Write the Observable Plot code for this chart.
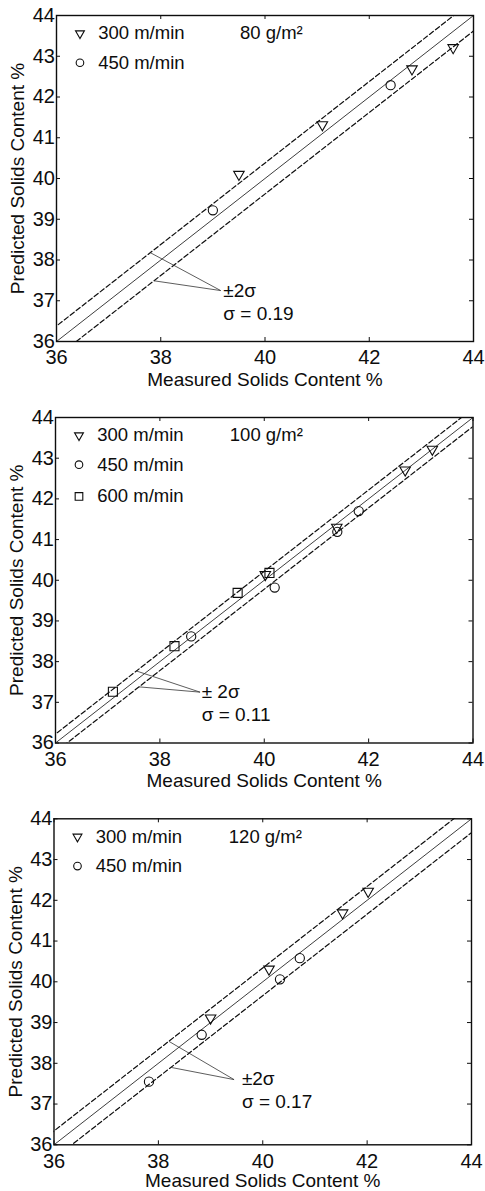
<!DOCTYPE html>
<html>
<head>
<meta charset="utf-8">
<script src="https://cdn.jsdelivr.net/npm/d3@7"></script>
<script src="https://cdn.jsdelivr.net/npm/@observablehq/plot@0.6"></script>
<style>
  body { margin: 0; background: #fff; }
  #charts svg { display: block; }
</style>
</head>
<body>
<div id="charts"></div>
<script>
// Axis ticks (shared by all three panels)
const xTicks = [36, 38, 40, 42, 44];
const yTicks = [36, 37, 38, 39, 40, 41, 42, 43, 44];

// Series names and their markers
const speeds = ["300 m/min", "450 m/min", "600 m/min"];
const symbols = ["triangle", "circle", "square"];

// Basis weight of each panel, and the scatter of prediction around y = x
const basisWeights = ["80 g/m²", "100 g/m²", "120 g/m²"];
const sigmas = [0.19, 0.11, 0.17];
const bandLabels = ["±2σ", "± 2σ", "±2σ"];
const sigmaLabels = ["σ = 0.19", "σ = 0.11", "σ = 0.17"];

// 80 g/m²
const measured80_300 = [39.50, 41.10, 42.82, 43.61];
const predicted80_300 = [40.10, 41.32, 42.69, 43.21];
const measured80_450 = [39.00, 42.41];
const predicted80_450 = [39.22, 42.29];

// 100 g/m²
const measured100_300 = [40.02, 41.39, 42.70, 43.22];
const predicted100_300 = [40.14, 41.30, 42.71, 43.22];
const measured100_450 = [38.60, 40.20, 41.40, 41.81];
const predicted100_450 = [38.62, 39.82, 41.19, 41.70];
const measured100_600 = [37.10, 38.28, 39.49, 40.10];
const predicted100_600 = [37.26, 38.38, 39.69, 40.18];

// 120 g/m²
const measured120_300 = [39.00, 40.12, 41.53, 42.02];
const predicted120_300 = [39.11, 40.31, 41.69, 42.22];
const measured120_450 = [37.82, 38.83, 40.33, 40.71];
const predicted120_450 = [37.55, 38.70, 40.06, 40.58];

const font = "'Liberation Sans', Arial, Helvetica, sans-serif";
const ink = "#0d0d0d";

function rows(measured, predicted) {
  return measured.map((m, i) => ({measured: m, predicted: predicted[i]}));
}

const panels = [
  {
    series: [rows(measured80_300, predicted80_300), rows(measured80_450, predicted80_450)],
    index: 0,
    layout: {height: 395, marginTop: 15, marginBottom: 54, marginLeft: 56, marginRight: 12, titleDy: 44},
    basisX: 39.52,
    leader: {upperX: 37.80, lowerX: 37.87, tipX: 39.15, tipY: 37.25, textX: 39.2, textY1: 37.23, textY2: 36.67}
  },
  {
    series: [rows(measured100_300, predicted100_300), rows(measured100_450, predicted100_450), rows(measured100_600, predicted100_600)],
    index: 1,
    layout: {height: 396, marginTop: 22, marginBottom: 48.5, marginLeft: 55, marginRight: 12.5, titleDy: 43.5},
    basisX: 39.34,
    leader: {upperX: 37.55, lowerX: 37.60, tipX: 38.77, tipY: 37.25, textX: 38.8, textY1: 37.26, textY2: 36.68}
  },
  {
    series: [rows(measured120_300, predicted120_300), rows(measured120_450, predicted120_450)],
    index: 2,
    layout: {height: 400, marginTop: 27.3, marginBottom: 46.7, marginLeft: 53.5, marginRight: 14, titleDy: 42},
    basisX: 39.35,
    leader: {upperX: 38.20, lowerX: 38.24, tipX: 39.45, tipY: 37.60, textX: 39.6, textY1: 37.62, textY2: 37.05}
  }
];

// marker radii for each symbol (data points and key)
const markerR = {triangle: 3.9, circle: 4.6, square: 5.1};
const keyR = {triangle: 3.3, circle: 3.8, square: 4.3};
const keyRows = [43.56, 42.84, 42.06];
const keySymbolX = 36.45;
const keyTextX = 36.80;

function drawPanel(p) {
  const L = p.layout;
  const fw = 485 - L.marginLeft - L.marginRight;
  const fh = L.height - L.marginTop - L.marginBottom;
  const band = 2 * sigmas[p.index];
  const diag = [35, 45];
  const lead = p.leader;

  const marks = [
    // reference line y = x and the ±2σ band
    Plot.line(diag, {x: d => d, y: d => d, stroke: ink, strokeWidth: 0.8, clip: true}),
    Plot.line(diag, {x: d => d, y: d => d + band, stroke: ink, strokeWidth: 1.2, strokeDasharray: "5,2.6", clip: true}),
    Plot.line(diag, {x: d => d, y: d => d - band, stroke: ink, strokeWidth: 1.2, strokeDasharray: "5,2.6", clip: true}),

    // leader lines from the band to its label
    Plot.link([
      {x1: lead.upperX, y1: lead.upperX + band, x2: lead.tipX, y2: lead.tipY},
      {x1: lead.lowerX, y1: lead.lowerX - band, x2: lead.tipX, y2: lead.tipY}
    ], {x1: "x1", y1: "y1", x2: "x2", y2: "y2", stroke: "#333", strokeWidth: 0.8}),
    Plot.text([{x: lead.textX, y: lead.textY1, t: bandLabels[p.index]}, {x: lead.textX, y: lead.textY2, t: sigmaLabels[p.index]}],
      {x: "x", y: "y", text: "t", textAnchor: "start", fontSize: 19, fill: ink}),

    // inward tick marks on all four sides
    Plot.tickX(xTicks, {x: d => d, insetTop: fh - 4, stroke: ink, strokeWidth: 1}),
    Plot.tickX(xTicks, {x: d => d, insetBottom: fh - 4, stroke: ink, strokeWidth: 1}),
    Plot.tickY(yTicks, {y: d => d, insetRight: fw - 4, stroke: ink, strokeWidth: 1}),
    Plot.tickY(yTicks, {y: d => d, insetLeft: fw - 4, stroke: ink, strokeWidth: 1}),

    Plot.axisX(xTicks, {tickSize: 0, tickPadding: 8.5, label: null, fontSize: 20, fill: ink}),
    Plot.axisY(yTicks, {tickSize: 0, tickPadding: 1.5, label: null, fontSize: 20, fill: ink}),

    // axis titles
    Plot.text(["Measured Solids Content %"], {frameAnchor: "bottom", textAnchor: "middle", lineAnchor: "bottom", dy: L.titleDy, fontSize: 19, fill: ink}),
    Plot.text(["Predicted Solids Content %"], {frameAnchor: "left", textAnchor: "middle", lineAnchor: "middle", dx: -38.5, rotate: -90, fontSize: 19, fill: ink}),

    // basis weight
    Plot.text([{x: p.basisX, y: keyRows[0], t: basisWeights[p.index]}], {x: "x", y: "y", text: "t", textAnchor: "start", fontSize: 18.5, fill: ink}),

    Plot.frame({stroke: ink, strokeWidth: 1.4})
  ];

  p.series.forEach((data, i) => {
    const sym = symbols[i];
    const rot = sym === "triangle" ? 180 : 0;
    marks.push(Plot.dot(data, {x: "measured", y: "predicted", symbol: sym, r: markerR[sym], rotate: rot, stroke: ink, strokeWidth: 1.1, fill: "none"}));
    // key entry
    marks.push(Plot.dot([{x: keySymbolX, y: keyRows[i]}], {x: "x", y: "y", symbol: sym, r: keyR[sym], rotate: rot, stroke: ink, strokeWidth: 1.1, fill: "none"}));
    marks.push(Plot.text([{x: keyTextX, y: keyRows[i], t: speeds[i]}], {x: "x", y: "y", text: "t", textAnchor: "start", fontSize: 18.5, fill: ink}));
  });

  return Plot.plot({
    width: 485,
    height: L.height,
    marginTop: L.marginTop,
    marginBottom: L.marginBottom,
    marginLeft: L.marginLeft,
    marginRight: L.marginRight,
    style: {fontFamily: font, background: "#fff", color: ink},
    x: {domain: [36, 44]},
    y: {domain: [36, 44]},
    marks
  });
}

const root = document.getElementById("charts");
panels.forEach(p => root.appendChild(drawPanel(p)));
</script>
</body>
</html>
